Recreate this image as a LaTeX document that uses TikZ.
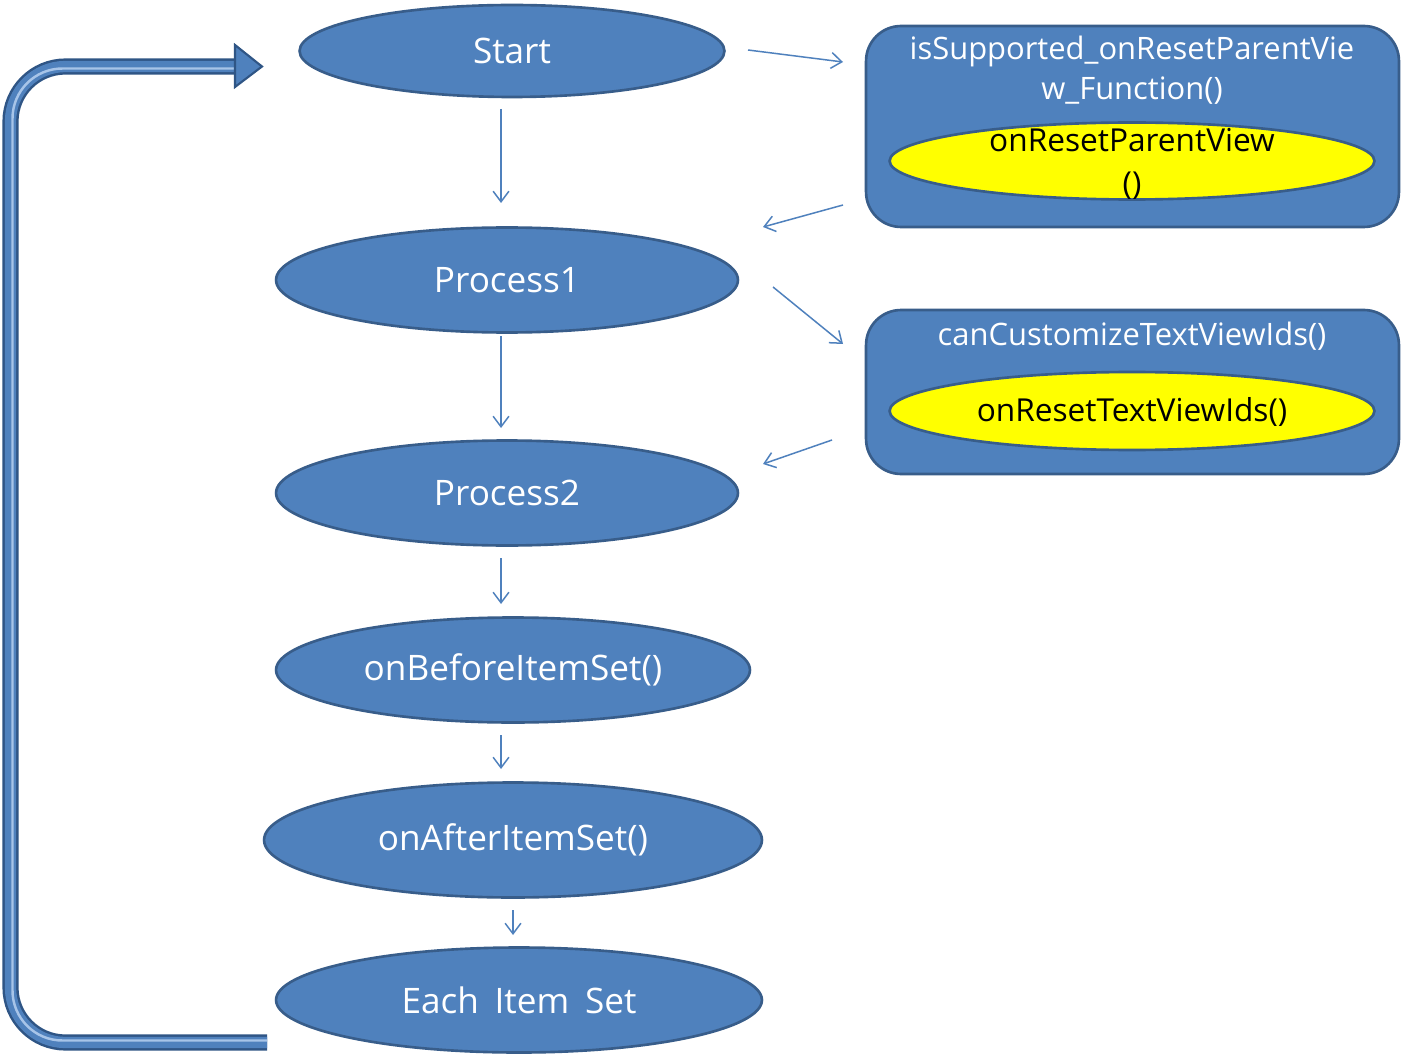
\documentclass[tikz,border=0pt]{standalone}
\usepackage{fontspec}
\setmainfont{Open Sans}
\usetikzlibrary{arrows.meta,shapes.geometric}
\definecolor{ofill}{HTML}{4F81BD}
\definecolor{oline}{HTML}{385D8A}
\definecolor{odark}{HTML}{2F5585}
\definecolor{olight}{HTML}{A7C4E8}
\definecolor{pyellow}{HTML}{FFFF00}
\tikzset{
  proc/.style={ellipse, draw=oline, line width=1.5pt, fill=ofill, text=white, inner sep=0pt, font=\fontsize{20}{24}\selectfont},
  ybox/.style={ellipse, draw=oline, line width=1.5pt, fill=pyellow, inner sep=0pt},
  grp/.style={rectangle, rounded corners=0.7cm, draw=oline, line width=1.5pt, fill=ofill, inner sep=0pt},
  grptext/.style={text=white, align=center, inner sep=0pt, font=\fontsize{17.6}{22.7}\selectfont},
  ytext/.style={text=black, align=center, inner sep=0pt, font=\fontsize{18}{24.4}\selectfont},
  flow/.style={draw=ofill, line width=0.85pt, -{Straight Barb[length=6pt,width=9pt]}}
}
\begin{document}
\begin{tikzpicture}[x=0.02cm,y=-0.02cm]
\useasboundingbox[fill=white] (0,0) rectangle (1402,1057);
% main flow
\node[proc, minimum width=8.5cm, minimum height=1.84cm] (start) at (512,51) {Start};
\node[proc, minimum width=9.24cm, minimum height=2.1cm] (p1) at (507,280) {Process1};
\node[proc, minimum width=9.24cm, minimum height=2.1cm] (p2) at (507,493) {Process2};
\node[proc, minimum width=9.48cm, minimum height=2.1cm] (before) at (513,670) {onBeforeItemSet()};
\node[proc, minimum width=9.96cm, minimum height=2.3cm] (after) at (513,840) {onAfterItemSet()};
\node[proc, minimum width=9.72cm, minimum height=2.1cm] (each) at (519,1000) {Each\hspace{0.45em}Item\hspace{0.45em}Set};
% side groups
\node[grp, minimum width=10.66cm, minimum height=4.02cm] (g1) at (1132.5,126.5) {};
\node[grptext] (g1t) at (1132,70) {isSupported\_onResetParentVie\\w\_Function()};
\node[ybox, minimum width=9.7cm, minimum height=1.54cm] (y1) at (1132,161) {};
\node[ytext] (y1t) at (1132,164) {onResetParentView\\()};
\node[grp, minimum width=10.66cm, minimum height=3.28cm] (g2) at (1132.5,392) {};
\node[grptext] (g2t) at (1132,336) {canCustomizeTextViewIds()};
\node[ybox, minimum width=9.7cm, minimum height=1.56cm] (y2) at (1132,411) {};
\node[ytext] (y2t) at (1132,412) {onResetTextViewIds()};
% connector end points
\coordinate (a1s) at (501,109); \coordinate (a1e) at (501,203);
\coordinate (a2s) at (501,336); \coordinate (a2e) at (501,428);
\coordinate (a3s) at (501,558); \coordinate (a3e) at (501,604);
\coordinate (a4s) at (501,735); \coordinate (a4e) at (501,769);
\coordinate (a5s) at (513,910); \coordinate (a5e) at (513,935);
\coordinate (b1s) at (748,50);  \coordinate (b1e) at (843,62);
\coordinate (b2s) at (843,205); \coordinate (b2e) at (763,227);
\coordinate (b3s) at (773,287); \coordinate (b3e) at (843,344);
\coordinate (b4s) at (832,440); \coordinate (b4e) at (763,464);
\draw[flow] (a1s) -- (a1e);
\draw[flow] (a2s) -- (a2e);
\draw[flow] (a3s) -- (a3e);
\draw[flow] (a4s) -- (a4e);
\draw[flow] (a5s) -- (a5e);
\draw[flow] (b1s) -- (b1e);
\draw[flow] (b2s) -- (b2e);
\draw[flow] (b3s) -- (b3e);
\draw[flow] (b4s) -- (b4e);
% loop-back block arrow
\coordinate (ls) at (267,1042.5);
\coordinate (lc1) at (10.5,1042.5);
\coordinate (lc2) at (10.5,66.5);
\coordinate (le) at (238,66.5);
\draw[odark, line width=9.2pt, rounded corners=1.1cm] (ls) -- (lc1) -- (lc2) -- (le);
\draw[ofill, line width=6.4pt, rounded corners=1.1cm] (ls) -- (lc1) -- (lc2) -- (le);
\draw[olight, line width=1.4pt, rounded corners=1.0cm] ([yshift=0.04cm]ls) -- ([xshift=0.04cm,yshift=0.04cm]lc1) -- ([xshift=0.04cm,yshift=-0.04cm]lc2) -- ([yshift=-0.04cm]le);
\coordinate (ht) at (235,45); \coordinate (hb) at (235,87); \coordinate (hp) at (262,66.5);
\draw[odark, fill=ofill, line width=1.2pt, line join=miter] (ht) -- (hp) -- (hb) -- cycle;
\end{tikzpicture}
\end{document}
